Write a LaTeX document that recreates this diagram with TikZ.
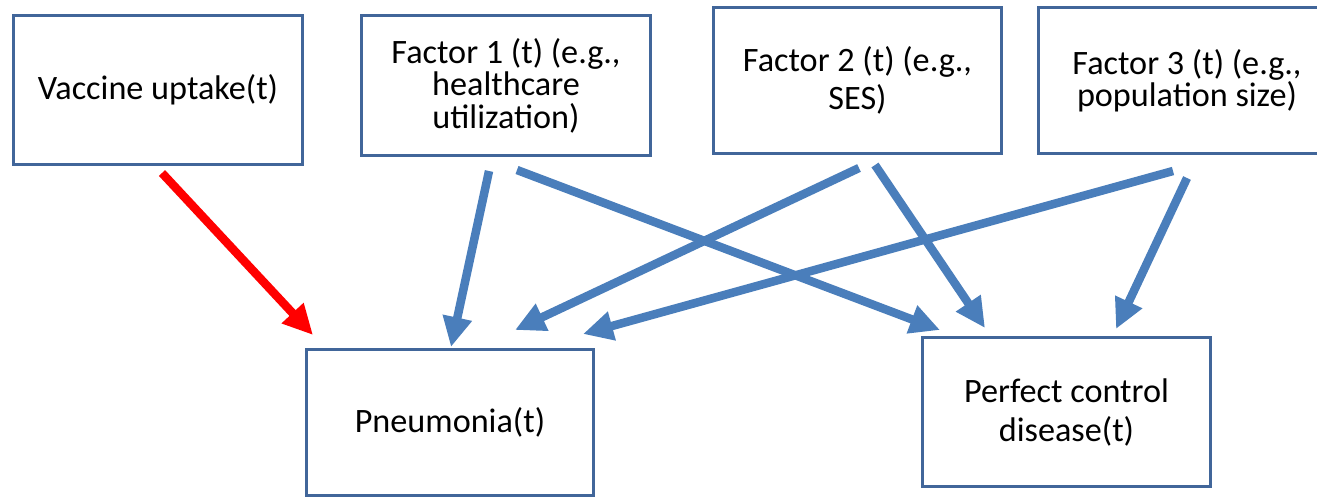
\documentclass[tikz,border=0pt]{standalone}
\usepackage{fontspec}
\setmainfont{Carlito}
\usetikzlibrary{arrows.meta,calc}
\definecolor{boxline}{HTML}{41669A}
\definecolor{arrblue}{HTML}{4A7EBB}
\definecolor{arrred}{HTML}{FF0000}
\tikzset{
  box/.style={draw=boxline, line width=3.3pt, fill=white, rectangle, inner sep=0pt, outer sep=0pt,
    align=center, font=\fontsize{34.2}{32}\selectfont},
  barrow/.style={draw=arrblue, line width=8.5pt, -{Triangle[length=30pt,width=28pt]}},
  rarrow/.style={draw=arrred, line width=8.5pt, -{Triangle[length=30pt,width=28pt]}}
}
\begin{document}
\begin{tikzpicture}[x=1pt,y=-1pt]
\useasboundingbox (0,0) rectangle (1317,499);
\node[box, minimum width=289pt, minimum height=149pt] (vac) at (158,90) {Vaccine uptake(t)};
\node[box, minimum width=289pt, minimum height=140pt, font=\fontsize{34.2}{32.5}\selectfont] (f1) at (506,85.5) {Factor 1 (t) (e.g.,\\healthcare\\utilization)};
\node[box, minimum width=288pt, minimum height=146pt, font=\fontsize{34.2}{38}\selectfont] (f2) at (857.5,80.5) {Factor 2 (t) (e.g.,\\SES)};
\node[box, minimum width=297pt, minimum height=146pt, font=\fontsize{34.2}{28}\selectfont] (f3) at (1187,80.5) {Factor 3 (t) (e.g.,\\population size)};
\node[box, minimum width=287pt, minimum height=146pt] (pn) at (450,422.5) {Pneumonia(t)};
\node[box, minimum width=288pt, minimum height=149pt, font=\fontsize{34.2}{39}\selectfont] (pc) at (1066.5,412) {Perfect control\\disease(t)};

\draw[rarrow] ($(vac)+(4,83)$) -- ($(pn)+(-137,-87.5)$);
\draw[barrow] ($(f1)+(-17,85.5)$) -- ($(pn)+(1,-75.5)$);
\draw[barrow] ($(f1)+(11,84.5)$) -- ($(pc)+(-126.5,-82)$);
\draw[barrow] ($(f2)+(1.5,87.5)$) -- ($(pn)+(65,-92.5)$);
\draw[barrow] ($(f2)+(17.5,84.5)$) -- ($(pc)+(-81.5,-84)$);
\draw[barrow] ($(f3)+(-14,90.5)$) -- ($(pn)+(133,-88.5)$);
\draw[barrow] ($(f3)+(0,97.5)$) -- ($(pc)+(49.5,-83)$);
\end{tikzpicture}
\end{document}
